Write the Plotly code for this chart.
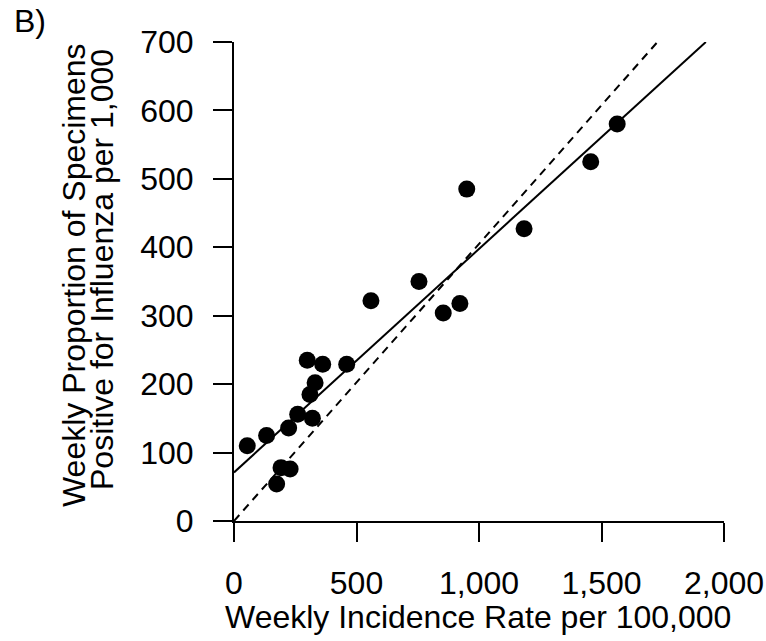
import plotly.graph_objects as go

# Data
incidence = [54, 133, 174, 192, 229, 223, 260, 320, 310, 331, 299, 362, 460,
             559, 755, 854, 922, 950, 1184, 1456, 1564]
proportion = [110, 125, 54, 78, 76, 136, 156, 150, 185, 202, 235, 229, 229,
              322, 350, 304, 318, 485, 427, 525, 580]

fit_intercept = 71
fit_slope = 0.3266
ref_intercept = 0
ref_slope = 0.405

x_ticks = [0, 500, 1000, 1500, 2000]
x_ticktext = ["0", "500", "1,000", "1,500", "2,000"]
y_ticks = [0, 100, 200, 300, 400, 500, 600, 700]
y_max = 700

FONT = "Liberation Sans, Arial, Helvetica, sans-serif"
FS = 32

W, H = 766, 641
L, T = 234, 42
R = W - 724
B = H - 521


def line_pts(b0, b1):
    x_end = (y_max - b0) / b1
    return [0, x_end], [b0, b0 + b1 * x_end]


fx, fy = line_pts(fit_intercept, fit_slope)
rx, ry = line_pts(ref_intercept, ref_slope)

fig = go.Figure()
fig.add_trace(go.Scatter(x=rx, y=ry, mode="lines",
                         line=dict(color="black", width=2, dash="8px,6px"),
                         hoverinfo="skip", cliponaxis=False))
fig.add_trace(go.Scatter(x=fx, y=fy, mode="lines",
                         line=dict(color="black", width=2),
                         hoverinfo="skip", cliponaxis=False))
fig.add_trace(go.Scatter(x=incidence, y=proportion, mode="markers",
                         marker=dict(color="black", size=17, line=dict(width=0)),
                         cliponaxis=False))

fig.update_layout(
    width=W, height=H,
    margin=dict(l=L, r=R, t=T, b=B, autoexpand=False),
    paper_bgcolor="white", plot_bgcolor="white",
    showlegend=False,
    font=dict(family=FONT, size=FS, color="black"),
    xaxis=dict(range=[0, 2000], tickvals=x_ticks, ticktext=x_ticktext,
               showline=True, linecolor="black", linewidth=2, automargin=False,
               ticks="outside", ticklen=19, tickwidth=2, tickcolor="black",
               showgrid=False, zeroline=False, ticklabelstandoff=14,
               tickfont=dict(family=FONT, size=FS, color="black")),
    yaxis=dict(range=[0, y_max], tickvals=y_ticks,
               showline=True, linecolor="black", linewidth=2, automargin=False,
               ticks="outside", ticklen=19, tickwidth=2, tickcolor="black",
               showgrid=False, zeroline=False, ticklabelstandoff=13,
               tickfont=dict(family=FONT, size=FS, color="black")),
)

ph = H - T - B
pw = W - L - R


def py(p):
    return (H - B - p) / ph


def px(p):
    return (p - L) / pw


fig.add_annotation(text="Weekly Incidence Rate per 100,000", xref="paper", yref="paper",
                   x=px(478), y=py(616.5), xanchor="center", yanchor="middle",
                   showarrow=False, font=dict(family=FONT, size=FS, color="black"))
fig.add_annotation(text="Weekly Proportion of Specimens", xref="paper", yref="paper",
                   x=px(74), y=py(275), xanchor="center", yanchor="middle", textangle=-90,
                   showarrow=False, font=dict(family=FONT, size=FS, color="black"))
fig.add_annotation(text="Positive for Influenza per 1,000", xref="paper", yref="paper",
                   x=px(102), y=py(270), xanchor="center", yanchor="middle", textangle=-90,
                   showarrow=False, font=dict(family=FONT, size=FS, color="black"))
fig.add_annotation(text="B)", xref="paper", yref="paper",
                   x=px(12), y=py(21.5), xanchor="left", yanchor="middle",
                   showarrow=False, font=dict(family=FONT, size=FS, color="black"))

fig.write_html("out.html",
               config={"displayModeBar": False, "staticPlot": True},
               post_script="document.body.style.margin='0';document.body.style.padding='0';")
